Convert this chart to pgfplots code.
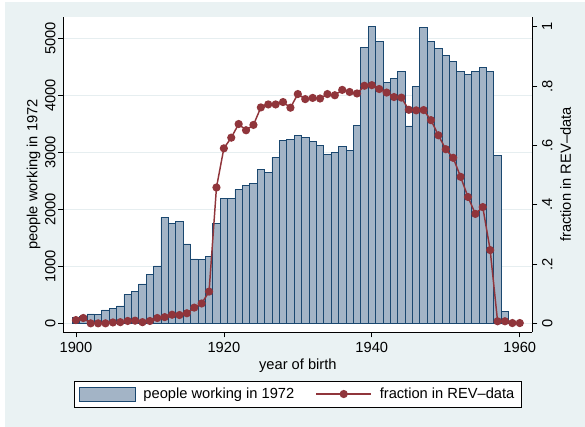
\documentclass[border=0pt]{standalone}
\usepackage{fontspec}
\setmainfont{Liberation Sans}
\usepackage{pgfplots}
\usepackage{pgfplotstable}
\pgfplotsset{compat=1.18}
\definecolor{bgc}{HTML}{EAF2F3}
\definecolor{barfill}{HTML}{A3B4C6}
\definecolor{baredge}{HTML}{1A476F}
\definecolor{linec}{HTML}{90353B}
\definecolor{gridc}{HTML}{E6EEF0}

\pgfplotstableread{
year people
1900 105
1901 130
1902 164
1903 152
1904 234
1905 263
1906 304
1907 509
1908 561
1909 690
1910 860
1911 1006
1912 1860
1913 1754
1914 1789
1915 1392
1916 1129
1917 1123
1918 1181
1919 1754
1920 2193
1921 2193
1922 2345
1923 2415
1924 2456
1925 2702
1926 2649
1927 2912
1928 3205
1929 3228
1930 3298
1931 3257
1932 3193
1933 3123
1934 2959
1935 3000
1936 3105
1937 3035
1938 3474
1939 4842
1940 5205
1941 4947
1942 4228
1943 4298
1944 4415
1945 3462
1946 4152
1947 5193
1948 4942
1949 4825
1950 4696
1951 4602
1952 4415
1953 4368
1954 4415
1955 4485
1956 4415
1957 2953
1958 211
}\peopletable

\pgfplotstableread{
year frac
1900 0.011
1901 0.018
1902 0.000
1903 0.000
1904 0.000
1905 0.003
1906 0.004
1907 0.008
1908 0.009
1909 0.004
1910 0.008
1911 0.018
1912 0.021
1913 0.029
1914 0.028
1915 0.034
1916 0.053
1917 0.067
1918 0.107
1919 0.458
1920 0.590
1921 0.626
1922 0.672
1923 0.651
1924 0.669
1925 0.728
1926 0.738
1927 0.738
1928 0.746
1929 0.727
1930 0.773
1931 0.756
1932 0.760
1933 0.758
1934 0.773
1935 0.769
1936 0.787
1937 0.780
1938 0.775
1939 0.801
1940 0.803
1941 0.790
1942 0.778
1943 0.763
1944 0.761
1945 0.720
1946 0.718
1947 0.719
1948 0.685
1949 0.634
1950 0.587
1951 0.558
1952 0.494
1953 0.426
1954 0.369
1955 0.392
1956 0.247
1957 0.007
1958 0.007
1959 0.001
1960 0.001
}\fractable

\pgfplotsset{
  common/.style={
    scale only axis,
    width=351.75pt, height=236.7pt,
    at={(47.5pt,71pt)}, anchor=south west,
    xmin=1898.3, xmax=1961.7,
    tick align=outside,
    major tick length=3.75pt,
    tick style={black, line width=0.5pt},
    axis line style={black, line width=0.6pt},
    /pgf/number format/assume math mode=true,
    tick label style={font=\fontsize{11}{13}\selectfont},
    label style={font=\fontsize{11}{13}\selectfont},
  },
}

\begin{document}
\begin{tikzpicture}[font=\fontsize{11}{13}\selectfont]
\fill[white] (0,0) rectangle (438.75pt,320.25pt);
\fill[bgc] (3.75pt,0) rectangle (438.75pt,318.75pt);

\begin{axis}[common,
  axis x line*=bottom, axis y line*=left,
  axis background/.style={fill=white},
  ymin=-157.9, ymax=5379,
  ytick={0,1000,2000,3000,4000,5000},
  xtick={1900,1920,1940,1960},
  xticklabel style={/pgf/number format/1000 sep={}},
  yticklabel style={rotate=90, anchor=south, inner sep=2pt, /pgf/number format/1000 sep={}},
  ymajorgrids, grid style={gridc, line width=0.8pt},
  xlabel={year of birth},
  ylabel={people working in 1972},
  xlabel style={yshift=2pt},
  ylabel style={yshift=-2pt},
]
\addplot[ybar, bar width=1, bar shift=0pt, fill=barfill, draw=baredge, line width=0.6pt]
  table[x=year, y=people] {\peopletable};
\end{axis}

\begin{axis}[common,
  axis x line=none, axis y line*=right,
  ymin=-0.0303, ymax=1.0337,
  ytick={0,0.2,0.4,0.6,0.8,1},
  yticklabels={0,.2,.4,.6,.8,1},
  yticklabel style={rotate=90, anchor=north},
  ylabel={fraction in REV--data},
  ylabel style={yshift=1pt},
  legend columns=2,
  legend style={at={(0.5,-0.1955)}, anchor=center, draw=black, fill=white,
    line width=0.5pt, inner xsep=3pt, inner ysep=3pt,
    font=\fontsize{11}{13}\selectfont,
    /tikz/every odd column/.append style={column sep=4pt},
    /tikz/every even column/.append style={column sep=14pt}},
]
\addlegendimage{legend image code/.code={\draw[fill=barfill, draw=baredge, line width=0.6pt] (0pt,-5.25pt) rectangle (42pt,5.25pt);}}
\addlegendentry{people working in 1972}
\addplot[linec, line width=1.1pt, mark=*, mark size=2.5pt, mark options={fill=linec, draw=linec},
  legend image code/.code={\draw[linec, line width=1.1pt, mark=*, mark size=2.5pt, mark options={fill=linec, draw=linec}, mark repeat=2, mark phase=2] plot coordinates {(0pt,0pt) (20.5pt,0pt) (41pt,0pt)};}]
  table[x=year, y=frac] {\fractable};
\addlegendentry{fraction in REV--data}
\end{axis}

\pgfresetboundingbox
\path[use as bounding box] (0,0) rectangle (438.75pt,320.25pt);
\end{tikzpicture}
\end{document}
